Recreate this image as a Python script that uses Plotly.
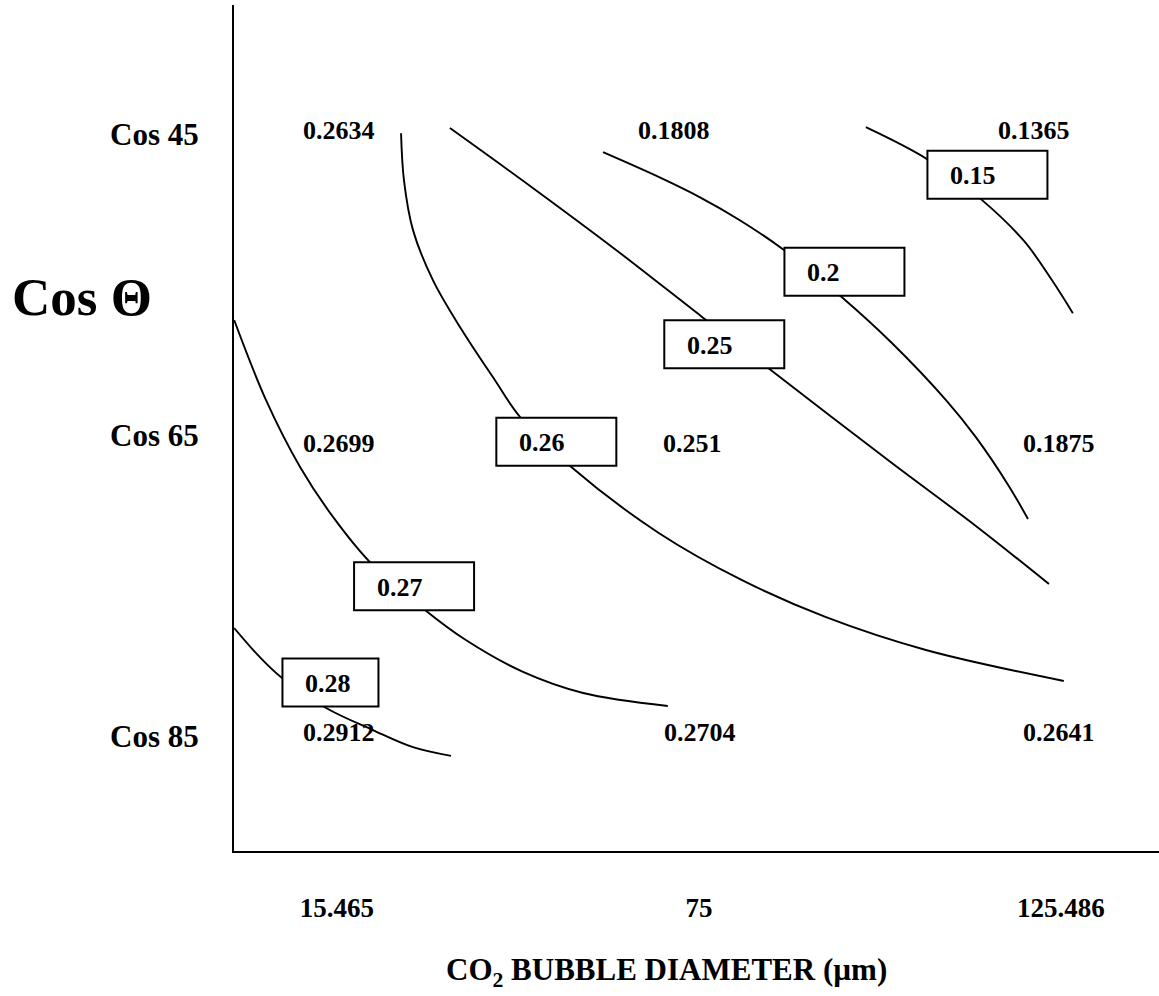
import plotly.graph_objects as go

# ---------------- data ----------------
x_tick_labels = ["15.465", "75", "125.486"]   # CO2 bubble diameter (µm)
y_tick_labels = ["Cos 85", "Cos 65", "Cos 45"]
x_grid = [0, 1, 2]
y_grid = [0, 1, 2]

# grid values (row by row, bottom -> top)
values_cos85 = [0.2912, 0.2704, 0.2641]
values_cos65 = [0.2699, 0.251, 0.1875]
values_cos45 = [0.2634, 0.1808, 0.1365]

# contour lines (x in grid units of diameter, y in grid units of angle)
levels = [0.15, 0.2, 0.25, 0.26, 0.27, 0.28]

c015_x = [1.461, 1.630, 1.779, 1.898, 1.975, 2.033]
c015_y = [2.023, 1.917, 1.784, 1.645, 1.515, 1.405]

c020_x = [0.735, 0.890, 1.003, 1.113, 1.235, 1.395, 1.533, 1.685, 1.765, 1.856, 1.909]
c020_y = [1.940, 1.857, 1.790, 1.714, 1.615, 1.458, 1.306, 1.113, 0.993, 0.831, 0.721]

c025_x = [0.312, 0.541, 0.771, 1.006, 1.185, 1.533, 1.765, 1.967]
c025_y = [2.020, 1.821, 1.615, 1.395, 1.229, 0.907, 0.698, 0.505]

c026_x = [0.177, 0.185, 0.210, 0.265, 0.345, 0.436, 0.506, 0.644, 0.890, 1.119, 1.351, 1.627, 2.008]
c026_y = [2.003, 1.847, 1.681, 1.515, 1.349, 1.183, 1.060, 0.897, 0.674, 0.518, 0.395, 0.286, 0.183]

c027_x = [-0.284, -0.196, -0.102, -0.011, 0.091, 0.243, 0.356, 0.514, 0.680, 0.914]
c027_y = [1.382, 1.116, 0.894, 0.728, 0.578, 0.419, 0.319, 0.213, 0.143, 0.100]

c028_x = [-0.284, -0.213, -0.155, -0.030, 0.099, 0.210, 0.315]
c028_y = [0.359, 0.262, 0.196, 0.093, 0.020, -0.037, -0.066]

# contour label positions (box centres)
label_x = [1.797, 1.402, 1.070, 0.606, 0.213, -0.018]
label_y = [1.865, 1.543, 1.302, 0.978, 0.498, 0.178]

# ---------------- figure ----------------
FONT = "Liberation Serif, Times New Roman, serif"
fig = go.Figure()

contours = [(c015_x, c015_y), (c020_x, c020_y), (c025_x, c025_y),
            (c026_x, c026_y), (c027_x, c027_y), (c028_x, c028_y)]
for lev, (cx, cy) in zip(levels, contours):
    fig.add_trace(go.Scatter(
        x=cx, y=cy, mode="lines", name=str(lev),
        line=dict(color="black", width=1.9, shape="spline", smoothing=1.0),
        hoverinfo="skip", showlegend=False))

# contour label boxes
box_half_w = [60, 60, 60, 60, 60, 48]
for lev, lx, ly, hw in zip(levels, label_x, label_y, box_half_w):
    fig.add_shape(type="rect", xref="x", yref="y",
                  xsizemode="pixel", ysizemode="pixel",
                  xanchor=lx, yanchor=ly,
                  x0=-hw, x1=hw, y0=-24, y1=24,
                  line=dict(color="black", width=2),
                  fillcolor="white", layer="above")
    fig.add_annotation(x=lx, y=ly, xref="x", yref="y", text="<b>%s</b>" % lev,
                       showarrow=False, xanchor="left", yanchor="middle",
                       xshift=-hw + 21, yshift=-1,
                       font=dict(family=FONT, size=26, color="black"))

# grid value labels
rows = [values_cos85, values_cos65, values_cos45]
row_yshift = [4, -8, 4]
row_xshift = [[-36, -37, -40], [-36, -38, -40], [-36, -63, -65]]
for yi, (row, ys, xs_row) in enumerate(zip(rows, row_yshift, row_xshift)):
    for xi, (v, xs) in enumerate(zip(row, xs_row)):
        fig.add_annotation(x=x_grid[xi], y=y_grid[yi], xref="x", yref="y",
                           text="<b>%s</b>" % v, showarrow=False,
                           xanchor="left", yanchor="middle",
                           xshift=xs, yshift=ys,
                           font=dict(family=FONT, size=26, color="black"))

fig.update_layout(
    width=1159, height=996,
    margin=dict(l=234, r=0, t=5, b=145),
    paper_bgcolor="white", plot_bgcolor="white",
    font=dict(family=FONT, color="black"),
    showlegend=False,
    xaxis=dict(range=[-0.2845, 2.271], tickvals=x_grid, ticktext=["<b>%s</b>" % t for t in x_tick_labels],
               showgrid=False, zeroline=False, showline=True, linecolor="black", linewidth=2,
               ticks="", ticklabelstandoff=32,
               tickfont=dict(family=FONT, size=27, color="black")),
    yaxis=dict(range=[-0.382, 2.429], tickvals=y_grid, ticktext=["<b>%s</b>" % t for t in y_tick_labels],
               showgrid=False, zeroline=False, showline=True, linecolor="black", linewidth=2,
               ticks="", ticklabelstandoff=27,
               tickfont=dict(family=FONT, size=31, color="black")),
)

# axis titles
fig.add_annotation(xref="paper", yref="paper", x=-0.164, y=0.655,
                   text="<b>Cos Θ</b>", showarrow=False,
                   xanchor="center", yanchor="middle",
                   font=dict(family=FONT, size=53, color="black"))
fig.add_annotation(xref="paper", yref="paper", x=0.468, y=-0.143,
                   text="<b>CO<sub>2</sub> BUBBLE DIAMETER (µm)</b>", showarrow=False,
                   xanchor="center", yanchor="middle",
                   font=dict(family=FONT, size=31, color="black"))

fig.write_html("out.html")
